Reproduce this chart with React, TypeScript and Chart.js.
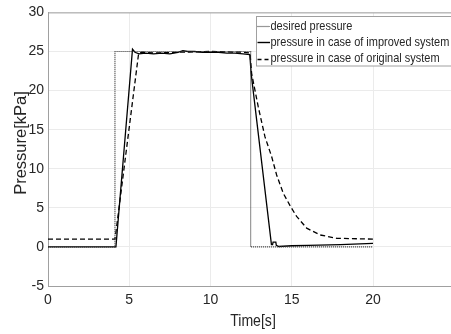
import React, { useEffect, useRef } from "react";
import { Chart, registerables } from "chart.js";

Chart.register(...registerables);

const xTicks = [0, 5, 10, 15, 20];
const legendLabels = [
  "desired pressure",
  "pressure in case of improved system",
  "pressure in case of original system",
];
const xTitle = "Time[s]";
const yTitle = "Pressure[kPa]";

const desiredT = [0, 4.12, 4.12, 12.47, 12.47, 20];
const desiredP = [0, 0, 25, 25, 0, 0];

const improvedT = [0, 4.18, 5.2, 5.35, 5.6, 6.0, 6.5, 7.0, 7.5, 8.0, 8.3, 8.6, 9.0, 9.5, 10.0, 10.5, 11.0, 11.5, 12.0, 12.42, 12.5, 13.75, 13.82, 13.85, 14.02, 14.05, 14.2, 15.0, 16.0, 18.0, 20.0];
const improvedP = [0, 0, 25.3, 24.9, 24.7, 24.8, 24.7, 24.8, 24.7, 24.9, 25.1, 25.0, 25.0, 24.9, 24.9, 24.9, 24.8, 24.8, 24.7, 24.6, 22.2, 0.3, 0.3, 0.6, 0.6, 0.2, 0.05, 0.15, 0.2, 0.3, 0.45];

const originalT = [0, 4.12, 4.2, 5.58, 5.8, 6.5, 8, 10, 12, 12.43, 12.53, 12.94, 13.35, 13.77, 14.07, 14.48, 14.93, 15.3, 15.92, 16.74, 17.77, 20];
const originalP = [1, 1, 2.2, 24.8, 24.9, 24.8, 24.9, 25, 24.9, 24.8, 22.2, 17.9, 14.1, 11.5, 9.2, 6.85, 5.15, 3.9, 2.4, 1.53, 1.1, 1.0];

const toXY = (t: number[], p: number[]) => t.map((x, i) => ({ x, y: p[i] }));

const FONT = "'Liberation Sans', Arial, sans-serif";
const TEXT = "#262626";

const overlay = {
  id: "overlay",
  afterDatasetsDraw(chart: any) {
    const { ctx, chartArea } = chart;
    ctx.save();
    // top border
    ctx.strokeStyle = "#a0a0a0";
    ctx.lineWidth = 1;
    ctx.beginPath();
    ctx.moveTo(chartArea.left, chartArea.top + 0.5);
    ctx.lineTo(chartArea.right, chartArea.top + 0.5);
    ctx.stroke();

    // legend box
    const bx = 256.5, by = 16.5, bh = 49.5;
    ctx.fillStyle = "#ffffff";
    ctx.fillRect(bx, by, chart.width - bx + 2, bh);
    ctx.strokeStyle = "#a0a0a0";
    ctx.strokeRect(bx, by, chart.width - bx + 2, bh);
    const rows = [26, 42.3, 58.5];
    const dashes = [[1, 1], [], [4, 3]];
    const colors = ["#333333", "#000000", "#000000"];
    rows.forEach((yy, i) => {
      ctx.strokeStyle = colors[i];
      ctx.lineWidth = i === 0 ? 1.2 : 1.4;
      ctx.setLineDash(dashes[i]);
      ctx.beginPath();
      ctx.moveTo(257.5, Math.round(yy) + 0.5);
      ctx.lineTo(270, Math.round(yy) + 0.5);
      ctx.stroke();
      ctx.setLineDash([]);
      ctx.save();
      ctx.translate(270.5, yy);
      ctx.scale(0.845, 1);
      ctx.fillStyle = TEXT;
      ctx.font = `13px ${FONT}`;
      ctx.textBaseline = "middle";
      ctx.textAlign = "left";
      ctx.fillText(legendLabels[i], 0, 0);
      ctx.restore();
    });

    // axis titles
    ctx.fillStyle = TEXT;
    ctx.textAlign = "center";
    ctx.textBaseline = "middle";
    ctx.save();
    ctx.translate(253, 322);
    ctx.scale(0.88, 1);
    ctx.font = `16px ${FONT}`;
    ctx.fillText(xTitle, 0, 0);
    ctx.restore();

    ctx.save();
    ctx.translate(21, 143);
    ctx.rotate(-Math.PI / 2);
    ctx.font = `16.5px ${FONT}`;
    ctx.fillText(yTitle, 0, 0);
    ctx.restore();
    ctx.restore();
  },
};

export default function App() {
  const ref = useRef<HTMLCanvasElement>(null);
  useEffect(() => {
    if (!ref.current) return;
    const chart = new Chart(ref.current, {
      type: "line",
      data: {
        datasets: [
          {
            label: legendLabels[0],
            data: toXY(desiredT, desiredP),
            borderColor: "#333333",
            borderWidth: 1.2,
            borderDash: [1, 1],
            pointRadius: 0,
            tension: 0,
          },
          {
            label: legendLabels[1],
            data: toXY(improvedT, improvedP),
            borderColor: "#000000",
            borderWidth: 1.3,
            pointRadius: 0,
            tension: 0,
          },
          {
            label: legendLabels[2],
            data: toXY(originalT, originalP),
            borderColor: "#000000",
            borderWidth: 1.3,
            borderDash: [5, 3],
            pointRadius: 0,
            tension: 0,
          },
        ],
      },
      options: {
        animation: false,
        responsive: false,
        maintainAspectRatio: false,
        layout: { padding: { top: 12, right: 0, left: 0, bottom: 0 } },
        plugins: { legend: { display: false }, tooltip: { enabled: false } },
        scales: {
          x: {
            type: "linear",
            min: 0,
            max: 24.8,
            afterBuildTicks: (s: any) => {
              s.ticks = xTicks.map((v) => ({ value: v }));
            },
            afterFit: (s: any) => {
              s.height = 48;
            },
            ticks: {
              font: { family: FONT, size: 14 },
              color: TEXT,
              padding: 6,
              maxRotation: 0,
              autoSkip: false,
            },
            grid: { color: "#ebebeb", drawTicks: false },
            border: { color: "#a0a0a0" },
          },
          y: {
            type: "linear",
            min: -5,
            max: 30,
            ticks: {
              stepSize: 5,
              font: { family: FONT, size: 14 },
              color: TEXT,
              padding: 4,
            },
            afterFit: (s: any) => {
              s.width = 48;
            },
            grid: { color: "#ebebeb", drawTicks: false },
            border: { color: "#a0a0a0" },
          },
        },
      },
      plugins: [overlay],
    });
    return () => chart.destroy();
  }, []);
  return (
    <div style={{ position: "fixed", left: 0, top: 0, width: 451, height: 334, background: "#fff" }}>
      <canvas ref={ref} width={451} height={334} style={{ width: 451, height: 334 }} />
    </div>
  );
}
